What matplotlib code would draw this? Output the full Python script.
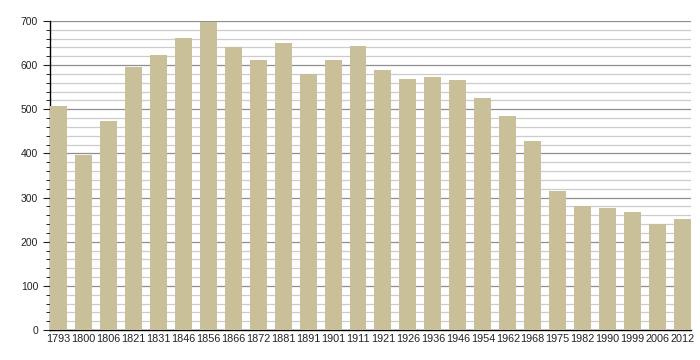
import numpy as np
import matplotlib.pyplot as plt

# population by census year
years = ['1793', '1800', '1806', '1821', '1831', '1846', '1856', '1866', '1872',
         '1881', '1891', '1901', '1911', '1921', '1926', '1936', '1946', '1954',
         '1962', '1968', '1975', '1982', '1990', '1999', '2006', '2012']
population = [507, 396, 473, 596, 623, 661, 698, 641, 612,
              651, 580, 612, 644, 589, 569, 572, 566, 526,
              485, 428, 316, 281, 276, 267, 241, 251]

plt.rcParams['font.family'] = ['Liberation Sans', 'DejaVu Sans']

fig = plt.figure(figsize=(7, 3.6), dpi=100)
ax = fig.add_axes([0.0714, 0.0833, 0.9157, 0.8584])

x = np.arange(len(years))
ax.bar(x, population, width=0.68, color='#C9C09A', zorder=3)

ax.set_xlim(-0.34, len(years) - 1 + 0.34)
ax.set_ylim(0, 700)
ax.set_yticks(np.arange(0, 701, 100))
ax.set_yticks(np.arange(0, 701, 20), minor=True)
ax.set_xticks(x)
ax.set_xticklabels(years)

ax.grid(axis='y', which='major', color='#8f8f8f', linewidth=0.9, zorder=0)
ax.grid(axis='y', which='minor', color='#cccccc', linewidth=0.9, zorder=0)

for s in ['top', 'right']:
    ax.spines[s].set_visible(False)
ax.spines['left'].set_color('black')
ax.spines['bottom'].set_color('black')
ax.spines['left'].set_linewidth(1)
ax.spines['bottom'].set_linewidth(1)

ax.tick_params(axis='y', which='major', length=5, labelsize=7.5, colors='#222222')
ax.tick_params(axis='y', which='minor', length=3)
ax.tick_params(axis='x', length=0, labelsize=7.8, pad=3, colors='#222222')

fig.savefig('out.png', dpi=100)
